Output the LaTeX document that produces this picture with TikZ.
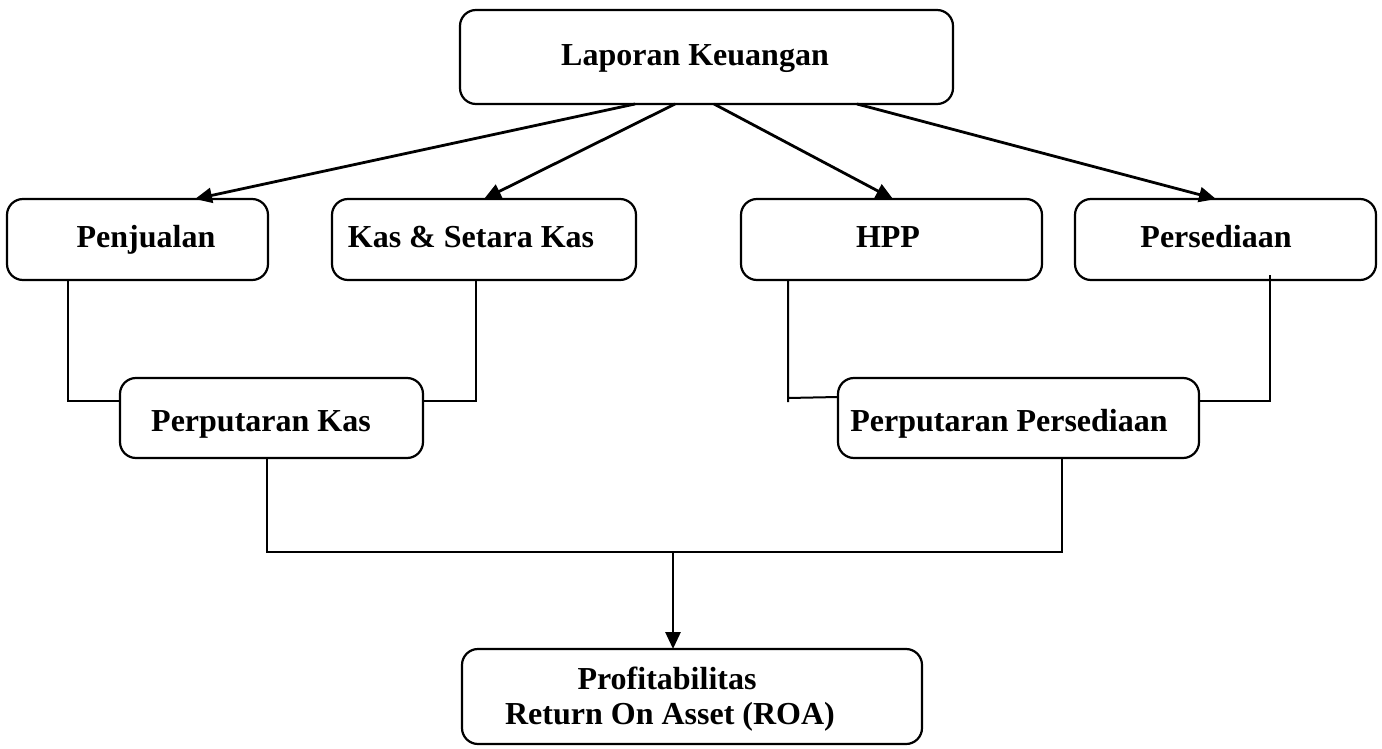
\documentclass[tikz,border=0pt]{standalone}
\usepackage{fontspec}
\setmainfont{Liberation Serif}
\usetikzlibrary{arrows.meta}
\begin{document}
\begin{tikzpicture}[x=1pt,y=-1pt,
  box/.style={draw, line width=2.2pt, rounded corners=16pt, inner sep=0pt, outer sep=0pt, anchor=north west},
  txt/.style={font=\fontsize{32}{38}\selectfont\bfseries, inner sep=0pt, anchor=base},
  arr/.style={line width=2.8pt, -{Triangle[length=17pt,width=15pt]}},
  conn/.style={line width=2pt}]
\useasboundingbox (0,0) rectangle (1382,749);
% boxes
\node[box, minimum width=493pt, minimum height=94pt] (T) at (460,10) {};
\node[box, minimum width=261pt, minimum height=81pt] (P1) at (7,199) {};
\node[box, minimum width=304pt, minimum height=81pt] (P2) at (332,199) {};
\node[box, minimum width=301pt, minimum height=81pt] (P3) at (741,199) {};
\node[box, minimum width=301pt, minimum height=81pt] (P4) at (1075,199) {};
\node[box, minimum width=303pt, minimum height=80pt] (Q1) at (120,378) {};
\node[box, minimum width=361pt, minimum height=80pt] (Q2) at (838,378) {};
\node[box, minimum width=460pt, minimum height=95pt] (R) at (462,649) {};
% texts
\node[txt] (tT) at (695,66) {Laporan Keuangan};
\node[txt] (tP1) at (146,247) {Penjualan};
\node[txt] (tP2) at (471,247) {Kas \& Setara Kas};
\node[txt] (tP3) at (888,247) {HPP};
\node[txt] (tP4) at (1216,247) {Persediaan};
\node[txt] (tQ1) at (261,431) {Perputaran Kas};
\node[txt] (tQ2) at (1009,431) {Perputaran Persediaan};
\node[txt] (tR1) at (667,689) {Profitabilitas};
\node[txt] (tR2) at (670,724) {Return On Asset (ROA)};
% arrows from top
\draw[arr] ([xshift=175pt]T.south west) -- ([xshift=188pt]P1.north west);
\draw[arr] ([xshift=215pt]T.south west) -- ([xshift=152pt]P2.north west);
\draw[arr] ([xshift=254pt]T.south west) -- ([xshift=152pt]P3.north west);
\draw[arr] ([xshift=397pt]T.south west) -- ([xshift=141pt]P4.north west);
% connectors to row 3
\draw[conn] ([xshift=61pt]P1.south west) |- ([yshift=-23pt]Q1.north west);
\draw[conn] ([xshift=144pt]P2.south west) |- ([yshift=-23pt]Q1.north east);
\draw[conn] ([xshift=47pt]P3.south west) -- ++(0,122) ++(0,-4) -- ([yshift=-19pt]Q2.north west);
\draw[conn] ([xshift=195pt,yshift=5pt]P4.south west) |- ([yshift=-23pt]Q2.north east);
% bottom join
\coordinate (J) at (673,552);
\draw[conn] ([xshift=147pt]Q1.south west) |- (J) -| ([xshift=224pt]Q2.south west);
\draw[arr] (J) -- (J |- R.north);
\end{tikzpicture}
\end{document}
